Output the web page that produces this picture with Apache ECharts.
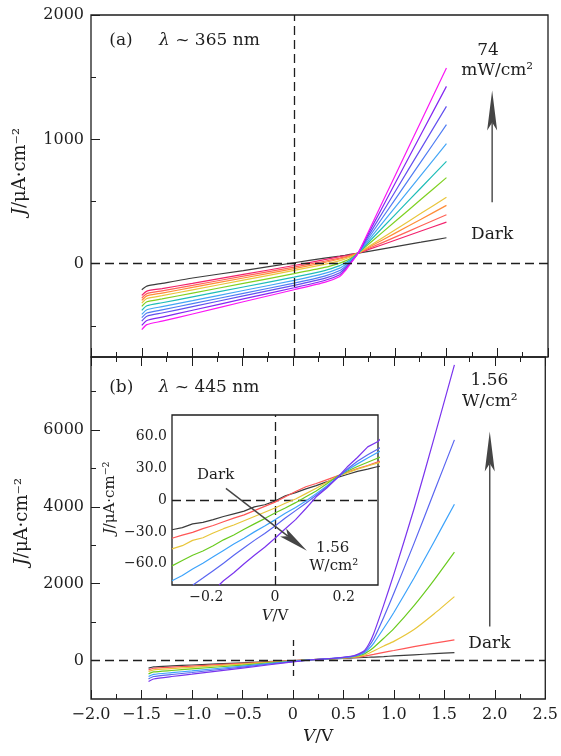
<!DOCTYPE html>
<html>
<head>
<meta charset="utf-8">
<script src="https://cdn.jsdelivr.net/npm/echarts@6/dist/echarts.min.js"></script>
<style>
  html, body { margin: 0; padding: 0; background: #fff; }
  #chart { width: 561px; height: 756px; }
</style>
</head>
<body>
<div id="chart"></div>
<script>
// ---------- (a) λ ~ 365 nm : dark curve + 11 UV intensities up to 74 mW/cm² ----------
const voltA = [-1.5, -1.45, -1.3, -1.0, -0.5, 0, 0.3, 0.45, 0.5, 0.55, 0.63, 0.75, 1.0, 1.25, 1.5];
const jA_dark = [-209, -180, -158, -115, -55, 8, 45, 62, 68, 75, 85, 102, 138, 173, 209];
const jA_1  = [-255, -220, -200, -158, -86, -14, 33, 57, 64, 72, 85, 119, 191, 263, 335];
const jA_2  = [-276, -240, -218, -174, -100, -27, 20, 45, 55, 65, 85, 128, 216, 305, 394];
const jA_3  = [-295, -258, -236, -190, -115, -40, 10, 38, 49, 60, 85, 138, 248, 358, 469];
const jA_4  = [-317, -280, -257, -210, -132, -54, -5, 25, 38, 52, 85, 147, 276, 405, 535];
const jA_5  = [-343, -306, -283, -236, -158, -80, -30, 5, 21, 40, 85, 169, 343, 518, 692];
const jA_6  = [-375, -338, -314, -266, -187, -108, -55, -15, 6, 30, 85, 187, 399, 611, 823];
const jA_7  = [-408, -370, -345, -297, -215, -134, -78, -35, -10, 20, 85, 206, 459, 712, 965];
const jA_8  = [-434, -396, -371, -321, -238, -156, -100, -55, -25, 10, 85, 227, 524, 821, 1118];
const jA_9  = [-461, -422, -396, -345, -259, -174, -118, -72, -38, 5, 85, 248, 587, 926, 1265];
const jA_10 = [-496, -456, -429, -374, -283, -193, -135, -88, -50, 0, 85, 270, 655, 1041, 1426];
const jA_11 = [-530, -490, -462, -404, -306, -209, -150, -102, -60, -5, 85, 290, 718, 1146, 1574];

// ---------- (b) λ ~ 445 nm : dark curve + 6 blue intensities up to 1.56 W/cm² ----------
const voltB = [-1.43, -1.38, -1.2, -1.0, -0.5, 0, 0.2, 0.4, 0.6, 0.7, 0.75, 0.8, 0.9, 1.0, 1.2, 1.4, 1.6];
const jB_dark = [-198, -165, -140, -115, -58, -1, 25, 45, 68, 80, 86, 92, 105, 120, 150, 180, 208];
const jB_1 = [-242, -200, -172, -142, -72, -2, 25, 48, 80, 110, 133, 160, 215, 262, 362, 452, 539];
const jB_2 = [-286, -240, -208, -175, -92, -7, 24, 50, 90, 135, 185, 250, 380, 500, 810, 1220, 1665];
const jB_3 = [-346, -295, -258, -218, -116, -12, 24, 52, 100, 165, 240, 340, 580, 830, 1430, 2100, 2821];
const jB_4 = [-416, -360, -315, -268, -144, -19, 23, 55, 110, 190, 300, 450, 840, 1250, 2150, 3100, 4070];
const jB_5 = [-476, -415, -362, -310, -168, -25, 23, 57, 118, 215, 360, 560, 1130, 1750, 3050, 4400, 5743];
const jB_6 = [-546, -480, -415, -355, -196, -36, 22, 60, 125, 240, 420, 700, 1450, 2250, 3950, 5800, 7694];

// ---------- inset of (b): low-bias detail ----------
const voltIn = [-0.30, -0.27, -0.24, -0.21, -0.18, -0.15, -0.12, -0.09, -0.06, -0.03, 0,
                0.03, 0.06, 0.09, 0.12, 0.15, 0.18, 0.21, 0.24, 0.27, 0.30, 0.32];
const jIn_dark = [-28, -26, -22.5, -21, -18.5, -15.5, -13, -10.5, -6.5, -4.5, -1, 4, 7, 10.5, 13.5, 17, 21, 24, 27, 29, 31.5, 32.4];
const jIn_1 = [-36, -33, -30.5, -27, -24, -20.5, -17, -14, -10, -6, -2, 3, 8, 12.5, 15.5, 19, 22.5, 26, 29.5, 32.5, 36, 38.3];
const jIn_2 = [-46, -43, -38, -35.5, -31, -27, -23.5, -19.5, -15.5, -11.5, -7.5, -3, 1, 6, 11, 16.5, 22, 25.5, 29, 32, 35, 36.5];
const jIn_3 = [-62, -57, -52, -48, -43, -37.5, -33, -27.5, -22.5, -17.5, -12.3, -7.5, -2.5, 3, 8.5, 15, 22, 27, 31.5, 35.5, 39.5, 42];
const jIn_4 = [-76, -71, -65, -59.5, -53.5, -47.5, -41.5, -36, -30, -24.5, -18.7, -12.5, -7, -1, 6, 13, 21, 28, 34, 39.5, 45, 48];
const voltIn5 = [-0.239, -0.21, -0.18, -0.15, -0.12, -0.09, -0.06, -0.03, 0, 0.03, 0.06, 0.09, 0.12, 0.15, 0.18, 0.21, 0.24, 0.27, 0.30, 0.32];
const jIn_5 = [-80, -73.5, -66.5, -59.5, -52, -45, -38, -31.5, -24.5, -17, -10, -3, 4.5, 12, 20.5, 29, 36.5, 42.5, 48, 52];
const voltIn6 = [-0.163, -0.15, -0.12, -0.09, -0.06, -0.03, 0, 0.03, 0.06, 0.09, 0.12, 0.15, 0.18, 0.21, 0.24, 0.27, 0.30, 0.32];
const jIn_6 = [-80, -76, -68.5, -60, -52, -44.5, -36, -27, -18.5, -8, 3, 11, 20.5, 31, 40, 50, 55, 62.3];

// tick values
const ticksA = [0, 1000, 2000];
const minorA = [-500, 500, 1500];
const ticksB = [0, 2000, 4000, 6000];
const minorB = [1000, 3000, 5000, 7000];
const ticksInY = [-60, -30, 0, 30, 60];
const minorInY = [-75, -45, -15, 15, 45, 75];
const ticksInX = [-0.2, 0, 0.2];
const minorInX = [-0.1, 0.1];

// ---------- styling ----------
const SERIF = '"DejaVu Serif", serif';
const INK = '#1e1e1e';
const ARROW = '#454545';
const coloursA = ['#3c3c3c', '#f2226c', '#ff6457', '#ff8c38', '#e9c63c', '#7fd122',
                  '#1fbdb8', '#45a6f6', '#4f7cf3', '#6350ef', '#8427f2', '#fb16f4'];
const coloursB = ['#3c3c3c', '#ff5656', '#e8c63a', '#6acb1f', '#3da3fb', '#5a66f1', '#7a34ee'];

const fmtV = v => Math.abs(v) < 1e-9 ? '0' : (v < 0 ? '\u2212' : '') + Math.abs(v).toFixed(1);
const fmtJ = v => String(v);

function lineSeries(xi, yi, xs, ys, colour, extra) {
  return Object.assign({
    type: 'line', xAxisIndex: xi, yAxisIndex: yi,
    data: xs.map((x, k) => [x, ys[k]]),
    symbol: 'none', showSymbol: false, silent: true, animation: false,
    lineStyle: { color: colour, width: 1.2 },
    emphasis: { disabled: true }
  }, extra || {});
}

function dashed(items) {
  return {
    symbol: 'none', silent: true, animation: false,
    label: { show: false },
    lineStyle: { color: INK, width: 1.3, type: [9, 5] },
    emphasis: { disabled: true },
    data: items
  };
}

const tickStyle = { color: INK, width: 1 };
function valAxis(extra) {
  return Object.assign({
    type: 'value',
    axisLine: { show: false, onZero: false },
    splitLine: { show: false },
    axisLabel: { show: false },
    axisTick: { show: false }
  }, extra);
}
const labelMain = { show: true, fontFamily: SERIF, fontSize: 16, color: INK };
const labelInset = { show: true, fontFamily: SERIF, fontSize: 14, color: INK };

const mainXTicks = {
  min: -2, max: 2.5, interval: 0.5,
  axisTick: { show: true, inside: true, length: 9, lineStyle: tickStyle },
  minorTick: { show: true, splitNumber: 2, length: 5, lineStyle: tickStyle }
};

const gridFrame = { show: true, borderColor: INK, borderWidth: 1.3, backgroundColor: 'transparent' };

const seriesA = [jA_dark, jA_1, jA_2, jA_3, jA_4, jA_5, jA_6, jA_7, jA_8, jA_9, jA_10, jA_11];
const seriesB = [jB_dark, jB_1, jB_2, jB_3, jB_4, jB_5, jB_6];
const seriesIn = [
  [voltIn, jIn_dark], [voltIn, jIn_1], [voltIn, jIn_2], [voltIn, jIn_3],
  [voltIn, jIn_4], [voltIn5, jIn_5], [voltIn6, jIn_6]
];

const smoothMain = { smooth: 0.2 };

const series = [];
seriesA.forEach((ys, i) => series.push(lineSeries(0, 0, voltA, ys, coloursA[i],
  Object.assign({}, smoothMain,
    i === 0 ? { markLine: dashed([{ yAxis: 0 }, { xAxis: 0 }]) } : {}))));
seriesB.forEach((ys, i) => series.push(lineSeries(1, 2, voltB, ys, coloursB[i],
  Object.assign({}, smoothMain,
    i === 0 ? { markLine: dashed([
      { yAxis: 0 },
      [{ coord: [0, -400], lineStyle: { type: [6, 4] } }, { coord: [0, 600] }]
    ]) } : {}))));
seriesIn.forEach(([xs, ys], i) => series.push(lineSeries(3, 4, xs, ys, coloursB[i],
  Object.assign({ clip: false, z: 5 },
    i === 0 ? { markLine: dashed([{ yAxis: 0 }, { xAxis: 0 }]) } : {}))));

const option = {
  animation: false,
  backgroundColor: '#fff',
  grid: [
    Object.assign({ left: 91, top: 15, width: 457, height: 342 }, gridFrame),
    Object.assign({ left: 91, top: 357, width: 457, height: 342 }, gridFrame),
    Object.assign({ left: 172, top: 415, width: 206, height: 170, z: 4 }, gridFrame, { backgroundColor: '#fff' })
  ],
  xAxis: [
    valAxis(Object.assign({ gridIndex: 0, position: 'bottom' }, mainXTicks)),
    valAxis(Object.assign({ gridIndex: 1, position: 'bottom' }, mainXTicks, {
      axisLabel: Object.assign({ formatter: fmtV, margin: 8 }, labelMain),
      name: '{i|V}/V', nameLocation: 'middle', nameGap: 29,
      nameTextStyle: { fontFamily: SERIF, fontSize: 17, color: INK,
        rich: { i: { fontFamily: SERIF, fontSize: 17, fontStyle: 'italic', color: INK } } }
    })),
    valAxis(Object.assign({ gridIndex: 1, position: 'top' }, mainXTicks)),
    valAxis({ gridIndex: 2, min: -0.3, max: 0.3, position: 'bottom',
      axisTick: { show: true, inside: true, length: 7, customValues: ticksInX, lineStyle: tickStyle },
      axisLabel: Object.assign({ customValues: ticksInX, formatter: fmtV, margin: 5 }, labelInset),
      name: '{i|V}/V', nameLocation: 'middle', nameGap: 24,
      nameTextStyle: { fontFamily: SERIF, fontSize: 15, color: INK,
        rich: { i: { fontFamily: SERIF, fontSize: 15, fontStyle: 'italic', color: INK } } }
    }),
    valAxis({ gridIndex: 2, min: -0.3, max: 0.3, position: 'bottom',
      axisTick: { show: true, inside: true, length: 4, customValues: minorInX, lineStyle: tickStyle } })
  ],
  yAxis: [
    valAxis({ gridIndex: 0, min: -750, max: 2000, position: 'left',
      axisTick: { show: true, inside: true, length: 9, customValues: ticksA, lineStyle: tickStyle },
      axisLabel: Object.assign({ customValues: ticksA, formatter: fmtJ, margin: 7 }, labelMain) }),
    valAxis({ gridIndex: 0, min: -750, max: 2000, position: 'left',
      axisTick: { show: true, inside: true, length: 5, customValues: minorA, lineStyle: tickStyle } }),
    valAxis({ gridIndex: 1, min: -1000, max: 7900, position: 'left',
      axisTick: { show: true, inside: true, length: 9, customValues: ticksB, lineStyle: tickStyle },
      axisLabel: Object.assign({ customValues: ticksB, formatter: fmtJ, margin: 7 }, labelMain) }),
    valAxis({ gridIndex: 1, min: -1000, max: 7900, position: 'left',
      axisTick: { show: true, inside: true, length: 5, customValues: minorB, lineStyle: tickStyle } }),
    valAxis({ gridIndex: 2, min: -80, max: 80, position: 'left',
      axisTick: { show: true, inside: true, length: 7, customValues: ticksInY, lineStyle: tickStyle },
      axisLabel: Object.assign({ customValues: ticksInY, formatter: fmtV, margin: 5 }, labelInset) }),
    valAxis({ gridIndex: 2, min: -80, max: 80, position: 'left',
      axisTick: { show: true, inside: true, length: 4, customValues: minorInY, lineStyle: tickStyle } })
  ],
  series: series
};

const chart = echarts.init(document.getElementById('chart'), null, { renderer: 'canvas' });
chart.setOption(option);

// ---------- annotations (placed in data coordinates of each panel) ----------
const pA = p => chart.convertToPixel({ xAxisIndex: 0, yAxisIndex: 0 }, p);
const pB = p => chart.convertToPixel({ xAxisIndex: 1, yAxisIndex: 2 }, p);
const pI = p => chart.convertToPixel({ xAxisIndex: 3, yAxisIndex: 4 }, p);

function label(pt, text, size, align, rotation) {
  return {
    type: 'text', x: pt[0], y: pt[1], rotation: rotation || 0, z: 100, silent: true,
    style: {
      text: text, fontFamily: SERIF, fontSize: size, fill: INK,
      align: align || 'center', verticalAlign: 'middle',
      rich: { i: { fontFamily: SERIF, fontSize: size, fontStyle: 'italic', fill: INK } }
    }
  };
}

function arrow(from, to, headLen, headW) {
  const dx = to[0] - from[0], dy = to[1] - from[1];
  const len = Math.hypot(dx, dy);
  const ux = dx / len, uy = dy / len, nx = -uy, ny = ux;
  const base = [to[0] - ux * headLen, to[1] - uy * headLen];
  const notch = [to[0] - ux * headLen * 0.8, to[1] - uy * headLen * 0.8];
  return [
    { type: 'line', z: 100, silent: true,
      shape: { x1: from[0], y1: from[1], x2: notch[0], y2: notch[1] },
      style: { stroke: ARROW, lineWidth: 1.4 } },
    { type: 'polygon', z: 100, silent: true,
      shape: { points: [to, [base[0] + nx * headW / 2, base[1] + ny * headW / 2], notch,
                        [base[0] - nx * headW / 2, base[1] - ny * headW / 2]] },
      style: { fill: ARROW } }
  ];
}

const yTitle = '{i|J}/\u03bcA\u00b7cm\u207b\u00b2';
const graphics = [
  label(pA([-1.82, 1795]), '(a)', 17, 'left'),
  label(pA([-1.33, 1795]), '{i|\u03bb} ~ 365 nm', 17, 'left'),
  label(pA([1.91, 1715]), '74', 17),
  label(pA([2.0, 1553]), 'mW/cm\u00b2', 17),
  label(pA([1.95, 233]), 'Dark', 17),
  ...arrow(pA([1.95, 495]), pA([1.95, 1393]), 40, 10),

  label(pB([-1.82, 7096]), '(b)', 17, 'left'),
  label(pB([-1.33, 7096]), '{i|\u03bb} ~ 445 nm', 17, 'left'),
  label(pB([1.946, 7286]), '1.56', 17),
  label(pB([1.95, 6740]), 'W/cm\u00b2', 17),
  label(pB([1.946, 435]), 'Dark', 17),
  ...arrow(pB([1.95, 885]), pB([1.95, 5959]), 40, 10),

  label(pI([-0.173, 23.6]), 'Dark', 15),
  label(pI([0.168, -45.7]), '1.56', 15),
  label(pI([0.171, -62.6]), 'W/cm\u00b2', 15),
  ...arrow(pI([-0.143, 10.9]), pI([0.093, -47.8]), 30, 10),

  label([pA([-2, 742])[0] - 71, pA([-2, 742])[1]], yTitle, 18, 'center', Math.PI / 2),
  label([pB([-2, 3617])[0] - 69, pB([-2, 3617])[1]], yTitle, 18, 'center', Math.PI / 2),
  label([pI([-0.3, 2])[0] - 62, pI([-0.3, 2])[1]], yTitle, 15, 'center', Math.PI / 2)
];
chart.setOption({ graphic: graphics });
</script>
</body>
</html>
